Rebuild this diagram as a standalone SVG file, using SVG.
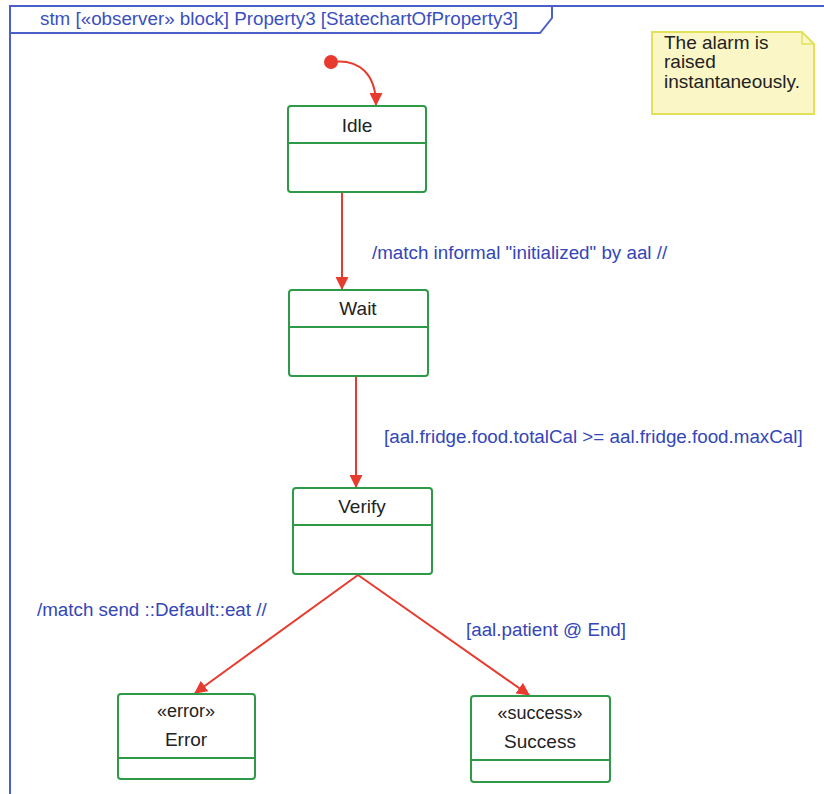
<svg xmlns="http://www.w3.org/2000/svg" width="824" height="794" viewBox="0 0 824 794">
<defs>
<style>
.frame{fill:none;stroke:#4a60c8;stroke-width:2}
.title{font-family:"Liberation Sans",Arial,sans-serif;font-size:18.8px;fill:#3a4fc0}
.state{fill:#fff;stroke:#2e9a47;stroke-width:2}
.div{stroke:#2e9a47;stroke-width:2}
.name{font-family:"Liberation Sans",Arial,sans-serif;font-size:19px;fill:#222;text-anchor:middle}
.ster{font-family:"Liberation Sans",Arial,sans-serif;font-size:18px;fill:#222;text-anchor:middle}
.lbl{font-family:"Liberation Sans",Arial,sans-serif;font-size:18.8px;fill:#3446b8}
.edge{fill:none;stroke:#e63b2e;stroke-width:2}
.note{fill:#fbf6c6;stroke:#e2e25a;stroke-width:2}
.ntext{font-family:"Liberation Sans",Arial,sans-serif;font-size:19px;fill:#222}
</style>
<marker id="arr" viewBox="0 0 12 12" refX="11" refY="6" markerWidth="13" markerHeight="13" markerUnits="userSpaceOnUse" orient="auto">
<path d="M0,0 L12,6 L0,12 z" fill="#e63b2e"/>
</marker>
</defs>
<rect width="824" height="794" fill="#fff"/>
<g id="frame">
<path class="frame" d="M824,6 L10,6 L10,794"/>
<path class="frame" d="M10,33 L540,33 L552,18 L552,6"/>
<text class="title" x="40" y="25">stm [«observer» block] Property3 [StatechartOfProperty3]</text>
</g>
<g id="note">
<path class="note" d="M652,32 L802,32 L814,44 L814,114 L652,114 Z"/>
<path d="M802,32 L802,44 L814,44" fill="none" stroke="#e2e25a" stroke-width="1.5"/>
<text class="ntext" x="664" y="49">The alarm is</text>
<text class="ntext" x="664" y="68">raised</text>
<text class="ntext" x="664" y="88">instantaneously.</text>
</g>
<g id="connectors">
<path class="edge" d="M331,62 C360,58 376,75 376,105" marker-end="url(#arr)"/>
<path class="edge" d="M342,193 L342,289" marker-end="url(#arr)"/>
<path class="edge" d="M356,377 L356,487" marker-end="url(#arr)"/>
<path class="edge" d="M358,575 L195,693" marker-end="url(#arr)"/>
<path class="edge" d="M358,575 L529,695" marker-end="url(#arr)"/>
<text class="lbl" x="372" y="259">/match informal "initialized" by aal //</text>
<text class="lbl" x="384" y="443">[aal.fridge.food.totalCal &gt;= aal.fridge.food.maxCal]</text>
<text class="lbl" x="37" y="616">/match send ::Default::eat //</text>
<text class="lbl" x="466" y="636">[aal.patient @ End]</text>
</g>
<g id="initial">
<circle cx="331" cy="62" r="7" fill="#e63b2e"/>
</g>
<g id="idle">
<rect class="state" x="288" y="106" width="138" height="86" rx="3"/>
<line class="div" x1="288" y1="143" x2="426" y2="143"/>
<text class="name" x="357" y="132">Idle</text>
</g>
<g id="wait">
<rect class="state" x="289" y="290" width="139" height="86" rx="3"/>
<line class="div" x1="289" y1="327" x2="428" y2="327"/>
<text class="name" x="358" y="315">Wait</text>
</g>
<g id="verify">
<rect class="state" x="293" y="488" width="139" height="86" rx="3"/>
<line class="div" x1="293" y1="525" x2="432" y2="525"/>
<text class="name" x="362" y="513">Verify</text>
</g>
<g id="error">
<rect class="state" x="118" y="694" width="137" height="85" rx="3"/>
<line class="div" x1="118" y1="758" x2="255" y2="758"/>
<text class="ster" x="186" y="717">«error»</text>
<text class="name" x="186" y="746">Error</text>
</g>
<g id="success">
<rect class="state" x="471" y="696" width="139" height="86" rx="3"/>
<line class="div" x1="471" y1="760" x2="610" y2="760"/>
<text class="ster" x="540" y="719">«success»</text>
<text class="name" x="540" y="748">Success</text>
</g>
</svg>
